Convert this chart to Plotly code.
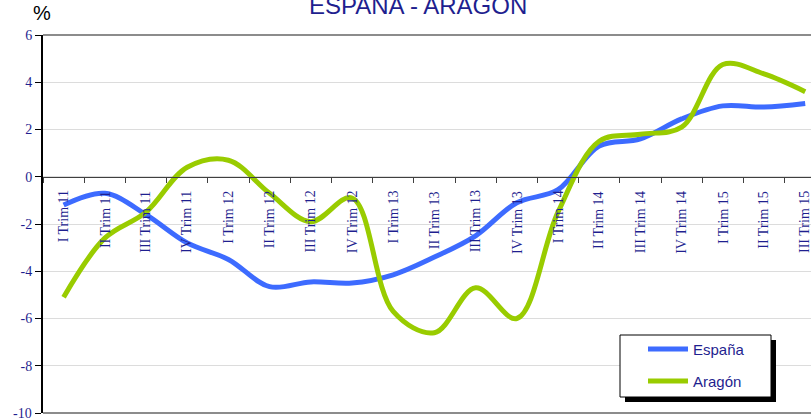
import plotly.graph_objects as go

categories = ["I Trim 11", "II Trim 11", "III Trim 11", "IV Trim 11",
              "I Trim 12", "II Trim 12", "III Trim 12", "IV Trim 12",
              "I Trim 13", "II Trim 13", "III Trim 13", "IV Trim 13",
              "I Trim 14", "II Trim 14", "III Trim 14", "IV Trim 14",
              "I Trim 15", "II Trim 15", "III Trim 15"]
espana = [-1.2, -0.7, -1.6, -2.8, -3.5, -4.65, -4.45, -4.5, -4.15, -3.4,
          -2.5, -1.1, -0.55, 1.3, 1.6, 2.45, 3.0, 2.95, 3.1]
aragon = [-5.1, -2.6, -1.5, 0.4, 0.7, -0.7, -1.9, -0.9, -5.7, -6.6,
          -4.7, -6.0, -1.5, 1.5, 1.8, 2.1, 4.75, 4.35, 3.6]
series_names = ["España", "Aragón"]
series_colors = ["#3d6bff", "#99cc00"]
y_ticks = [6, 4, 2, 0, -2, -4, -6, -8, -10]
y_tick_labels = ["6", "4", "2", "0", "-2", "-4", "-6", "-8", "-10"]

W, H = 811, 418
L, R, T, B = 43, 0, 35, 5
pw, ph = W - L - R, H - T - B

def px_x(p):
    return (p - L) / pw

def px_y(p):
    return (H - B - p) / ph

navy = "#1f1f8f"
serif = "Liberation Serif, Times New Roman, serif"
sans = "Liberation Sans, Arial, sans-serif"

fig = go.Figure()
for name, vals, col in zip(series_names, [espana, aragon], series_colors):
    fig.add_trace(go.Scatter(x=categories, y=vals, mode="lines", name=name,
                             showlegend=False, hoverinfo="skip",
                             line=dict(color=col, width=5, shape="spline", smoothing=1.0)))

cat_w = 41.2
ncat = pw / cat_w

fig.update_layout(
    width=W, height=H, margin=dict(l=L, r=R, t=T, b=B),
    paper_bgcolor="white", plot_bgcolor="white",
    showlegend=False,
    xaxis=dict(type="category", range=[-0.5, ncat - 0.5], automargin=False,
               showgrid=False, zeroline=False, showline=True, linecolor="#404040",
               linewidth=1, anchor="free", position=10 / 16,
               ticks="outside", tickson="boundaries", ticklen=5, tickcolor="#404040",
               showticklabels=False),
    yaxis=dict(range=[-10, 6], tickvals=y_ticks,
               ticktext=[t if v != y_ticks[-1] else "" for v, t in zip(y_ticks, y_tick_labels)],
               showgrid=True, gridcolor="#dcdcdc",
               gridwidth=1, zeroline=False, showline=True, linecolor="black", linewidth=2,
               ticks="outside", ticklen=6, tickcolor="black", automargin=False,
               tickfont=dict(family=serif, size=14, color=navy)),
)

# lowest tick label (clipped at the bottom edge in the original)
fig.add_annotation(x=0, xref="paper", xshift=-9, y=y_ticks[-1], yref="y",
                   text=y_tick_labels[-1], showarrow=False, xanchor="right", yanchor="middle",
                   font=dict(family=serif, size=14, color=navy))

# top and bottom frame lines
fig.add_shape(type="line", xref="paper", yref="paper", x0=0, x1=1, y0=1, y1=1,
              line=dict(color="#8c8c8c", width=2))
fig.add_shape(type="line", xref="paper", yref="paper", x0=0, x1=1, y0=0, y1=0,
              line=dict(color="#8c8c8c", width=2))

# category labels inside plot, rotated
for c in categories:
    fig.add_annotation(x=c, y=0, xref="x", yref="y", text=c, showarrow=False,
                       textangle=-90, xanchor="center", yanchor="top", yshift=-12,
                       font=dict(family=serif, size=14, color=navy))

# legend (shadow, box, samples, labels)
fig.add_shape(type="rect", xref="paper", yref="paper", layer="above",
              x0=px_x(625), x1=px_x(776), y0=px_y(402), y1=px_y(340),
              fillcolor="black", line=dict(width=0))
fig.add_shape(type="rect", xref="paper", yref="paper", layer="above",
              x0=px_x(620), x1=px_x(771), y0=px_y(397), y1=px_y(335),
              fillcolor="white", line=dict(color="black", width=1))
for i, (name, col) in enumerate(zip(series_names, series_colors)):
    yy = px_y(349 + i * 32)
    fig.add_shape(type="line", xref="paper", yref="paper", layer="above",
                  x0=px_x(648), x1=px_x(688), y0=yy, y1=yy,
                  line=dict(color=col, width=5))
    fig.add_annotation(x=px_x(691), y=yy, xref="paper", yref="paper", text=name,
                       showarrow=False, xanchor="left", yanchor="middle",
                       font=dict(family=sans, size=15, color=navy))

fig.add_annotation(x=px_x(418), y=px_y(5), xref="paper", yref="paper",
                   text="ESPAÑA - ARAGÓN", showarrow=False, xanchor="center", yanchor="middle",
                   font=dict(family=sans, size=24, color=navy))
fig.add_annotation(x=px_x(42), y=px_y(13.5), xref="paper", yref="paper",
                   text="%", showarrow=False, xanchor="center", yanchor="middle",
                   font=dict(family=sans, size=20, color="black"))

fig.write_html("out.html", config={"displayModeBar": False},
               post_script="document.body.style.margin='0';document.body.style.padding='0';")
